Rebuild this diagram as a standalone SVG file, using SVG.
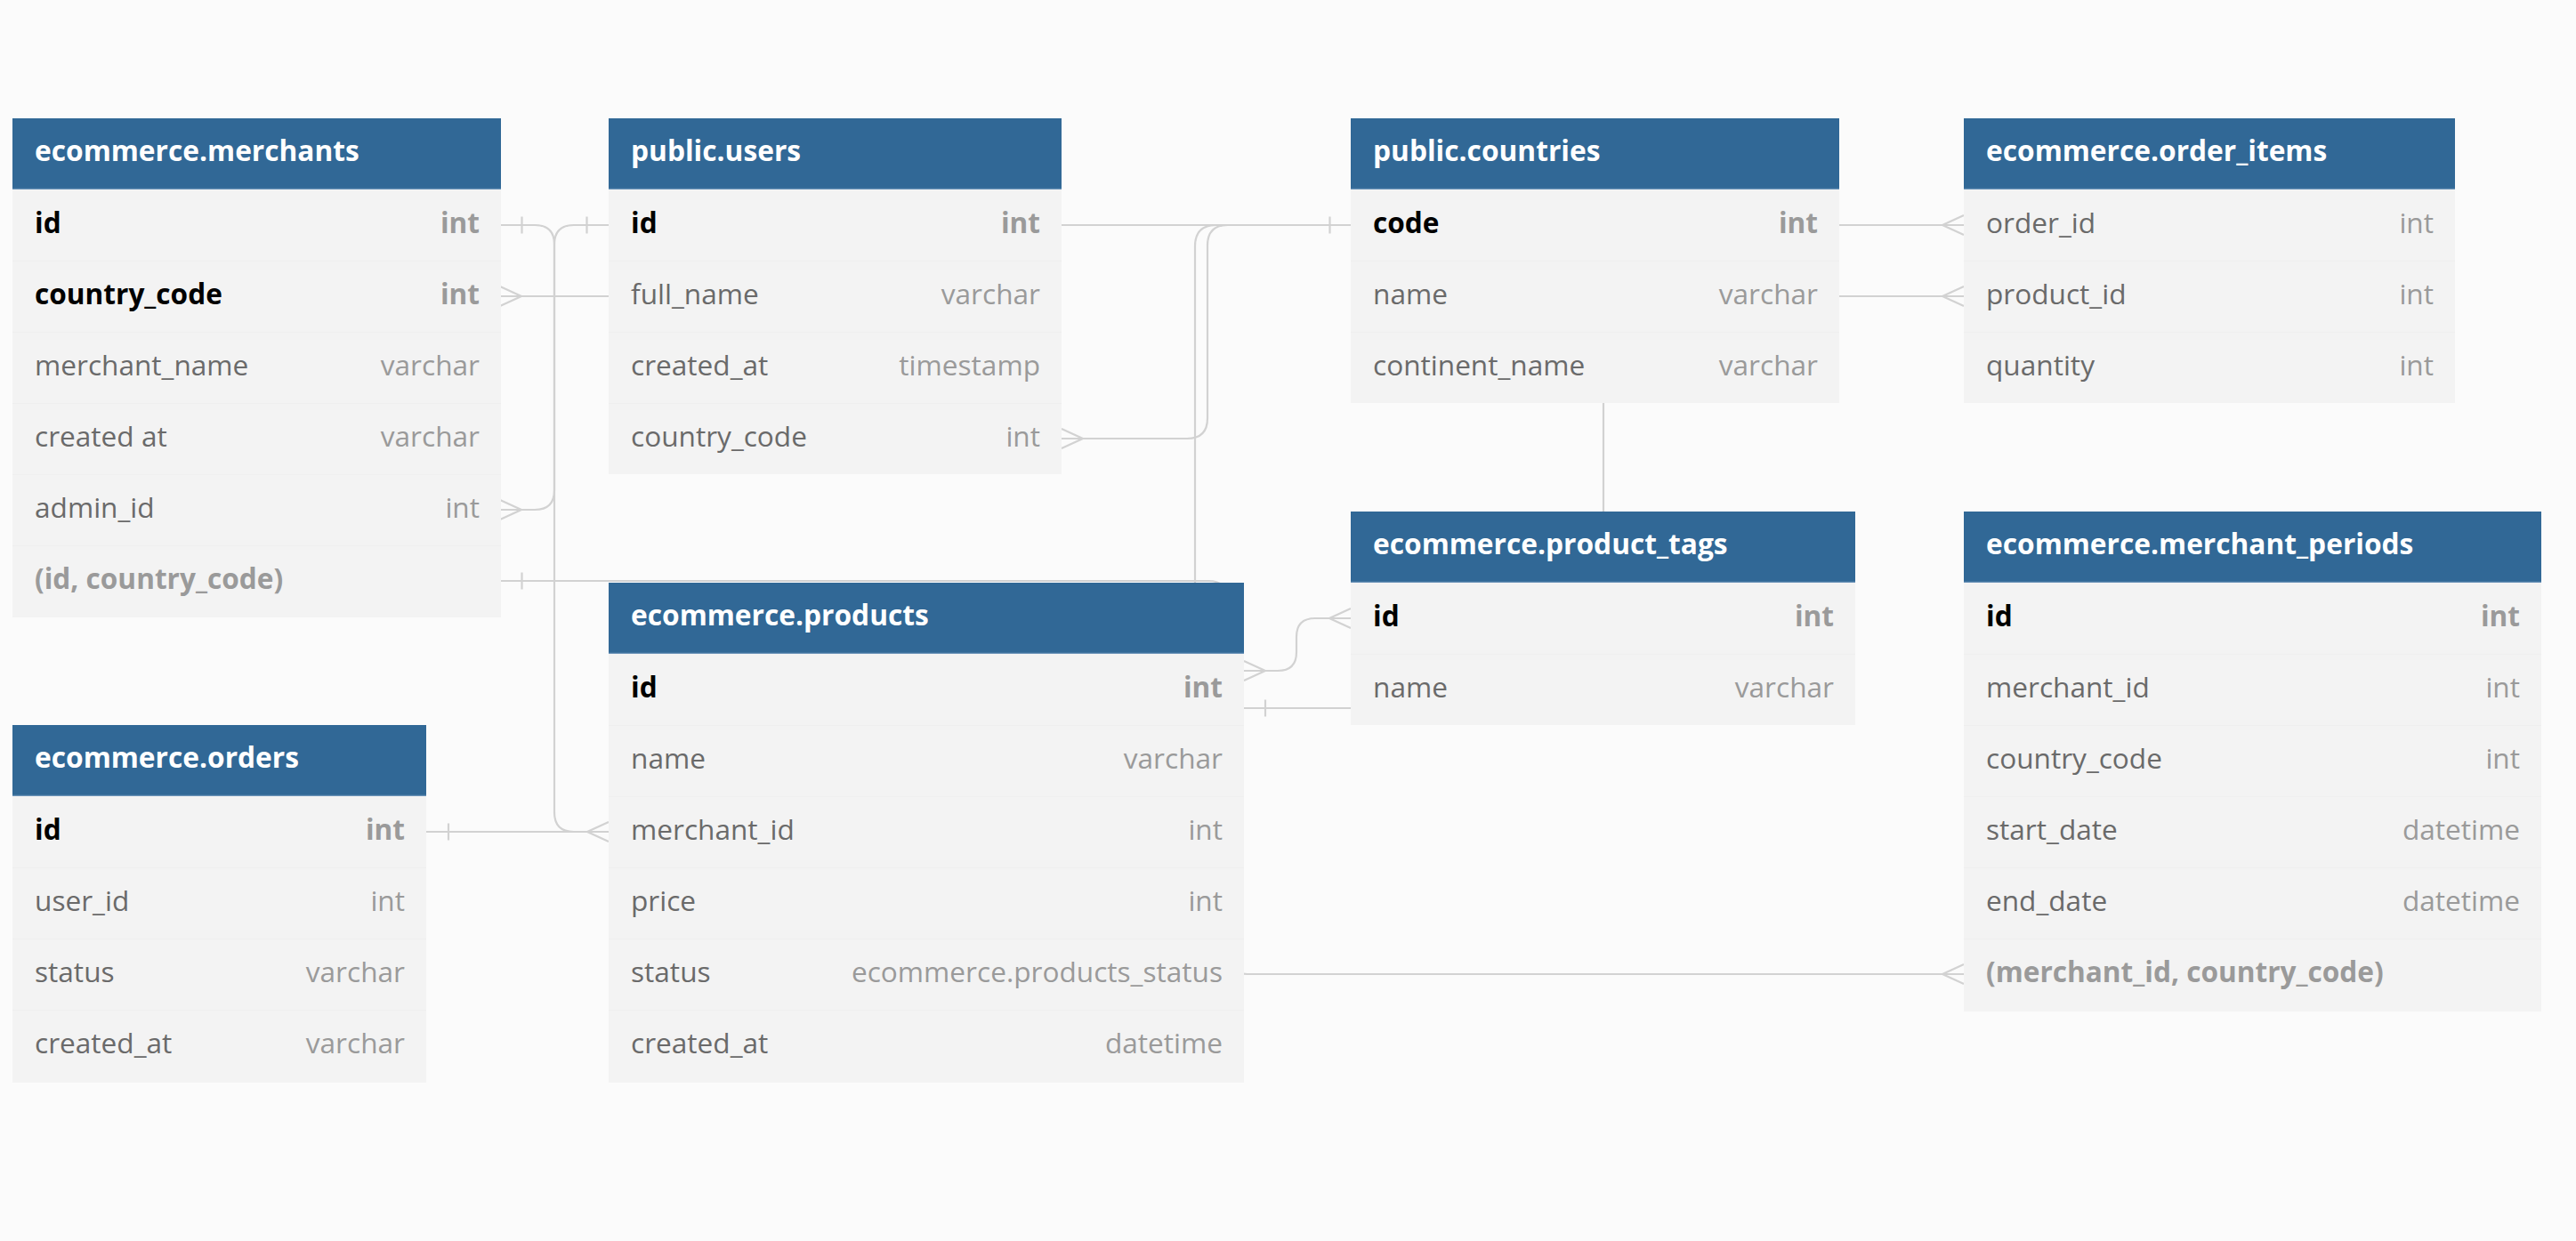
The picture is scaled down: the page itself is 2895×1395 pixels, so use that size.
<svg xmlns="http://www.w3.org/2000/svg" xmlns:xlink="http://www.w3.org/1999/xlink" width="2895" height="1395" viewBox="0 0 2895 1395">
<style>
.bg{fill:#fbfbfb}
.hdr{fill:#316896}
.hl{stroke:#6b93b8;stroke-width:1.5}
.body{fill:#f3f3f3}
.sep{stroke:#efefef;stroke-width:1}
text{font-family:"Open Sans","Noto Sans","Liberation Sans",sans-serif;font-size:31.6px}
.ttl{fill:#ffffff;font-weight:700;font-size:31.7px}
.f{fill:#6a6a6a}
.t{fill:#9a9a9a;text-anchor:end}
.pk{fill:#000000;font-weight:700}
.pkt{fill:#9a9a9a;font-weight:700;text-anchor:end}
.idx{fill:#9a9a9a;font-weight:700}
.ln{fill:none;stroke:#d2d2d2;stroke-width:2.2}
</style>
<defs>
<path id="crow" d="M0,-11 L24,0 L0,11"/>
<path id="tick" d="M0,-9.5 V9.5"/>
</defs>
<rect class="bg" x="0" y="0" width="2895" height="1395"/>

<g id="connectors" class="ln">
<!-- merchants.admin_id > users.id -->
<path d="M562,573 H601 Q623,573 623,551 V275 Q623,253 645,253 H684"/>
<use href="#crow" transform="translate(562,573)"/>
<use href="#tick" transform="translate(659.5,253)"/>
<!-- products.merchant_id > merchants.id -->
<path d="M562,253 H601 Q623,253 623,275 V913 Q623,935 645,935 H684"/>
<use href="#tick" transform="translate(586.5,253)"/>
<use href="#crow" transform="translate(684,935) scale(-1,1)"/>
<!-- merchants.country_code > countries.code -->
<path d="M562,333 H1000 V253 H1518"/>
<use href="#crow" transform="translate(562,333)"/>
<!-- users.country_code > countries.code -->
<path d="M1193,493 H1334 Q1357,493 1357,470 V276 Q1357,253 1380,253 H1518"/>
<use href="#crow" transform="translate(1193,493)"/>
<use href="#tick" transform="translate(1494.5,253)"/>
<!-- order_items.order_id > orders.id -->
<path d="M2207,253 H1367 Q1343,253 1343,277 V911 Q1343,935 1319,935 H479"/>
<use href="#crow" transform="translate(2207,253) scale(-1,1)"/>
<use href="#tick" transform="translate(504,935)"/>
<!-- merchant_periods.(merchant_id, country_code) > merchants.(id, country_code) -->
<path d="M562,653 H1358 Q1380,653 1380,675 V1073 Q1380,1095 1402,1095 H2207"/>
<use href="#tick" transform="translate(586.5,653)"/>
<use href="#crow" transform="translate(2207,1095) scale(-1,1)"/>
<!-- order_items.product_id > products.id -->
<path d="M2207,333 H1825 Q1802,333 1802,356 V773 Q1802,796 1779,796 H1398"/>
<use href="#crow" transform="translate(2207,333) scale(-1,1)"/>
<use href="#tick" transform="translate(1422,796)"/>
<!-- product_tags.id <> products.id -->
<path d="M1398,754 H1436 Q1457,754 1457,733 V716 Q1457,695 1478,695 H1518"/>
<use href="#crow" transform="translate(1398,754)"/>
<use href="#crow" transform="translate(1518,695) scale(-1,1)"/>
</g>

<g id="merchants">
<rect class="hdr" x="14" y="133" width="549" height="80"/>
<line class="hl" x1="14" y1="212.5" x2="563" y2="212.5"/>
<rect class="body" x="14" y="213" width="549" height="481"/>
<path class="sep" d="M14,293.5 H563 M14,373.5 H563 M14,453.5 H563 M14,533.5 H563 M14,613.5 H563"/>
<text class="ttl" x="39" y="181">ecommerce.merchants</text>
<text class="pk" x="39" y="262">id</text><text class="pkt" x="539" y="262">int</text>
<text class="pk" x="39" y="342">country_code</text><text class="pkt" x="539" y="342">int</text>
<text class="f" x="39" y="422">merchant_name</text><text class="t" x="539" y="422">varchar</text>
<text class="f" x="39" y="502">created at</text><text class="t" x="539" y="502">varchar</text>
<text class="f" x="39" y="582">admin_id</text><text class="t" x="539" y="582">int</text>
<text class="idx" x="39" y="662">(id, country_code)</text>
</g>

<g id="users">
<rect class="hdr" x="684" y="133" width="509" height="80"/>
<line class="hl" x1="684" y1="212.5" x2="1193" y2="212.5"/>
<rect class="body" x="684" y="213" width="509" height="320"/>
<path class="sep" d="M684,293.5 H1193 M684,373.5 H1193 M684,453.5 H1193"/>
<text class="ttl" x="709" y="181">public.users</text>
<text class="pk" x="709" y="262">id</text><text class="pkt" x="1169" y="262">int</text>
<text class="f" x="709" y="342">full_name</text><text class="t" x="1169" y="342">varchar</text>
<text class="f" x="709" y="422">created_at</text><text class="t" x="1169" y="422">timestamp</text>
<text class="f" x="709" y="502">country_code</text><text class="t" x="1169" y="502">int</text>
</g>

<g id="countries">
<rect class="hdr" x="1518" y="133" width="549" height="80"/>
<line class="hl" x1="1518" y1="212.5" x2="2067" y2="212.5"/>
<rect class="body" x="1518" y="213" width="549" height="240"/>
<path class="sep" d="M1518,293.5 H2067 M1518,373.5 H2067"/>
<text class="ttl" x="1543" y="181">public.countries</text>
<text class="pk" x="1543" y="262">code</text><text class="pkt" x="2043" y="262">int</text>
<text class="f" x="1543" y="342">name</text><text class="t" x="2043" y="342">varchar</text>
<text class="f" x="1543" y="422">continent_name</text><text class="t" x="2043" y="422">varchar</text>
</g>

<g id="order_items">
<rect class="hdr" x="2207" y="133" width="552" height="80"/>
<line class="hl" x1="2207" y1="212.5" x2="2759" y2="212.5"/>
<rect class="body" x="2207" y="213" width="552" height="240"/>
<path class="sep" d="M2207,293.5 H2759 M2207,373.5 H2759"/>
<text class="ttl" x="2232" y="181">ecommerce.order_items</text>
<text class="f" x="2232" y="262">order_id</text><text class="t" x="2735" y="262">int</text>
<text class="f" x="2232" y="342">product_id</text><text class="t" x="2735" y="342">int</text>
<text class="f" x="2232" y="422">quantity</text><text class="t" x="2735" y="422">int</text>
</g>

<g id="products">
<rect class="hdr" x="684" y="655" width="714" height="80"/>
<line class="hl" x1="684" y1="734.5" x2="1398" y2="734.5"/>
<rect class="body" x="684" y="735" width="714" height="482"/>
<path class="sep" d="M684,815.5 H1398 M684,895.5 H1398 M684,975.5 H1398 M684,1055.5 H1398 M684,1135.5 H1398"/>
<text class="ttl" x="709" y="703">ecommerce.products</text>
<text class="pk" x="709" y="784">id</text><text class="pkt" x="1374" y="784">int</text>
<text class="f" x="709" y="864">name</text><text class="t" x="1374" y="864">varchar</text>
<text class="f" x="709" y="944">merchant_id</text><text class="t" x="1374" y="944">int</text>
<text class="f" x="709" y="1024">price</text><text class="t" x="1374" y="1024">int</text>
<text class="f" x="709" y="1104">status</text><text class="t" x="1374" y="1104">ecommerce.products_status</text>
<text class="f" x="709" y="1184">created_at</text><text class="t" x="1374" y="1184">datetime</text>
</g>

<g id="orders">
<rect class="hdr" x="14" y="815" width="465" height="80"/>
<line class="hl" x1="14" y1="894.5" x2="479" y2="894.5"/>
<rect class="body" x="14" y="895" width="465" height="322"/>
<path class="sep" d="M14,975.5 H479 M14,1055.5 H479 M14,1135.5 H479"/>
<text class="ttl" x="39" y="863">ecommerce.orders</text>
<text class="pk" x="39" y="944">id</text><text class="pkt" x="455" y="944">int</text>
<text class="f" x="39" y="1024">user_id</text><text class="t" x="455" y="1024">int</text>
<text class="f" x="39" y="1104">status</text><text class="t" x="455" y="1104">varchar</text>
<text class="f" x="39" y="1184">created_at</text><text class="t" x="455" y="1184">varchar</text>
</g>

<g id="product_tags">
<rect class="hdr" x="1518" y="575" width="567" height="80"/>
<line class="hl" x1="1518" y1="654.5" x2="2085" y2="654.5"/>
<rect class="body" x="1518" y="655" width="567" height="160"/>
<path class="sep" d="M1518,735.5 H2085"/>
<text class="ttl" x="1543" y="623">ecommerce.product_tags</text>
<text class="pk" x="1543" y="704">id</text><text class="pkt" x="2061" y="704">int</text>
<text class="f" x="1543" y="784">name</text><text class="t" x="2061" y="784">varchar</text>
</g>

<g id="merchant_periods">
<rect class="hdr" x="2207" y="575" width="649" height="80"/>
<line class="hl" x1="2207" y1="654.5" x2="2856" y2="654.5"/>
<rect class="body" x="2207" y="655" width="649" height="482"/>
<path class="sep" d="M2207,735.5 H2856 M2207,815.5 H2856 M2207,895.5 H2856 M2207,975.5 H2856 M2207,1055.5 H2856"/>
<text class="ttl" x="2232" y="623">ecommerce.merchant_periods</text>
<text class="pk" x="2232" y="704">id</text><text class="pkt" x="2832" y="704">int</text>
<text class="f" x="2232" y="784">merchant_id</text><text class="t" x="2832" y="784">int</text>
<text class="f" x="2232" y="864">country_code</text><text class="t" x="2832" y="864">int</text>
<text class="f" x="2232" y="944">start_date</text><text class="t" x="2832" y="944">datetime</text>
<text class="f" x="2232" y="1024">end_date</text><text class="t" x="2832" y="1024">datetime</text>
<text class="idx" x="2232" y="1104">(merchant_id, country_code)</text>
</g>
</svg>
